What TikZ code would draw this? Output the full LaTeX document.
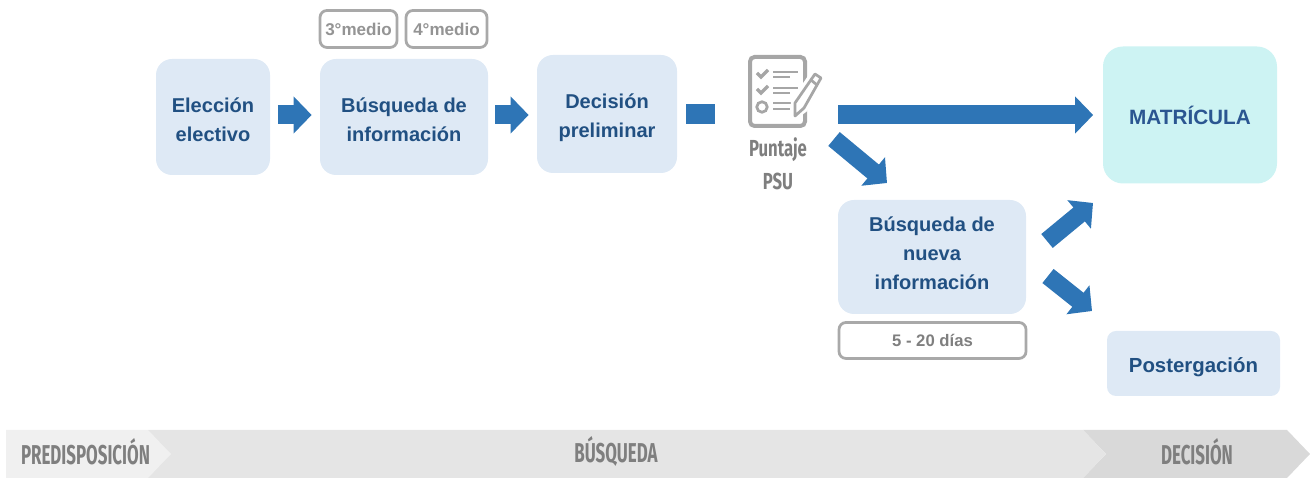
\documentclass[tikz,border=0pt]{standalone}
\usepackage{fontspec}
\setmainfont{Liberation Sans}
\newfontfamily\bannerfont{Fira Sans}[FakeStretch=0.62]
\newfontfamily\scorefont{Fira Sans}[FakeStretch=0.72]
\usetikzlibrary{arrows.meta,positioning,calc}

\definecolor{boxblue}{HTML}{DEE9F5}
\definecolor{boxcyan}{HTML}{CDF3F3}
\definecolor{arrowblue}{HTML}{2E75B6}
\definecolor{textblue}{HTML}{215082}
\definecolor{matblue}{HTML}{2B5691}
\definecolor{tagline}{HTML}{A9A9A9}
\definecolor{icongray}{HTML}{A6A6A6}
\definecolor{bannertext}{HTML}{7F7F7F}

% struts that move a label off the middle of its box
\newcommand{\dropby}[1]{\rule{0pt}{#1}}
\newcommand{\liftby}[1]{\rule[-#1]{0pt}{0pt}}

\tikzset{
	stagebox/.style={fill=boxblue, rounded corners=3.2mm, align=center, inner sep=0pt, text=textblue,
		font=\bfseries\fontsize{11.4}{16.4}\selectfont},
	tagbox/.style={draw=tagline, line width=0.55mm, rounded corners=1.4mm, fill=white, inner sep=0pt, text=black!42,
		font=\bfseries\fontsize{9.7}{12}\selectfont},
	blockarrow/.style={draw=arrowblue, line width=3.8mm, -{Triangle[length=3.6mm,width=7.2mm]}},
	bannertag/.style={text=bannertext, inner sep=0pt, font=\bannerfont\bfseries\fontsize{15.5}{18}\selectfont},
	iconline/.style={draw=icongray, line width=0.55mm},
}

\begin{document}
\begin{tikzpicture}[x=0.2mm,y=-0.2mm]
	\useasboundingbox (0,0) rectangle (1310,479);

	% Stages along the top
	\node[stagebox, minimum width=22.8mm, minimum height=23.2mm] (eleccion) at (213,117) {\dropby{3.95mm}Elección\\electivo};
	\node[stagebox, minimum width=33.6mm, minimum height=23.2mm] (busqueda) at (404,117) {\dropby{3.95mm}Búsqueda de\\información};
	\node[stagebox, minimum width=28mm, minimum height=23.6mm] (decision) at (607,114) {\dropby{4.55mm}Decisión\\preliminar};
	\node[stagebox, fill=boxcyan, rounded corners=4mm, minimum width=34.8mm, minimum height=27.4mm, text=matblue, font=\bfseries\fontsize{11.8}{16.4}\selectfont] (matricula) at (1190,115) {MATRÍCULA};
	\node[stagebox, minimum width=37.6mm, minimum height=22.8mm] (nueva) at (932,257) {Búsqueda de\\nueva\\información\liftby{1.6mm}};
	\node[stagebox, rounded corners=1.8mm, minimum width=34.6mm, minimum height=13mm, font=\bfseries\fontsize{11.6}{16.4}\selectfont] (postergacion) at (1193.5,363.5) {\dropby{4.55mm}Postergación};

	% Time tags
	\node[tagbox, minimum width=15.4mm, minimum height=7.4mm] (tercero) at (358.5,29) {3°medio};
	\node[tagbox, minimum width=16.2mm, minimum height=7.4mm] (cuarto) at (446.5,29) {4°medio};
	\node[tagbox, text=bannertext, minimum width=37.4mm, minimum height=7.2mm, font=\bfseries\fontsize{9.5}{12}\selectfont] (dias) at (932.5,340.5) {5 - 20 días};

	% Puntaje PSU icon
	\node[minimum width=11.6mm, minimum height=14.6mm, inner sep=0pt] (psu) at (777,91.5) {};
	\draw[draw=icongray, line width=0.8mm, rounded corners=0.9mm] (750,57) rectangle (805,126);
	\foreach \y in {72,88} {
		\draw[iconline, line width=0.7mm] (757,\y+1) -- (761,\y+5) -- (768,\y-2);
		\draw[iconline] (773,\y) -- (798,\y);
		\draw[iconline] (773,\y+5) -- (790,\y+5);
	}
	\draw[iconline] (762,107) circle[radius=1.05mm];
	\draw[iconline] (773,103) -- (792,103);
	\draw[iconline] (773,109) -- (790,109);
	\draw[draw=white, fill=white, line width=0.9mm, line join=round] (814,71) -- (823,78) -- (805,110) -- (793,119) -- (793,102) -- cycle;
	\draw[iconline, line join=round] (815,74) -- (821,78) -- (804,108) -- (795,116) -- (795,103) -- cycle;
	\draw[iconline] (811,80) -- (817,85);
	\node[text=bannertext, align=center, inner sep=0pt, font=\scorefont\bfseries\fontsize{13.2}{18.6}\selectfont, below=1.8mm of psu.south, xshift=0.2mm] (puntaje) {Puntaje\\PSU};

	% Arrows
	\coordinate (psuout) at (834,139);
	\coordinate (psuin) at (887,183);
	\coordinate (nuevaup) at (1047,241);
	\coordinate (matin) at (1093,203);
	\coordinate (nuevadown) at (1048,276);
	\coordinate (postin) at (1092,311);
	\draw[blockarrow, shorten <=1.5mm, shorten >=1.6mm] (eleccion.east |- matricula.west) -- (busqueda.west |- matricula.west);
	\draw[blockarrow, shorten <=1.4mm, shorten >=1.6mm] (busqueda.east |- matricula.west) -- (decision.west |- matricula.west);
	\draw[draw=arrowblue, line width=4mm, shorten <=1.8mm, shorten >=6.6mm] (decision.east) -- (decision.east -| psu.west);
	\draw[blockarrow, shorten <=6.4mm, shorten >=1.9mm] (psu.east |- matricula.west) -- (matricula.west);
	\draw[blockarrow, line width=3.6mm] (psuout) -- (psuin);
	\draw[blockarrow, line width=3.6mm] (nuevaup) -- (matin);
	\draw[blockarrow, line width=3.6mm] (nuevadown) -- (postin);

	% Banner along the bottom
	\fill[fill=black!15] (1083,430) -- (1287,430) -- (1310,454) -- (1287,478) -- (1083,478) -- (1106,454) -- cycle;
	\fill[fill=black!10] (148,430) -- (1083,430) -- (1106,454) -- (1083,478) -- (148,478) -- cycle;
	\fill[fill=black!6] (6,430) -- (148,430) -- (171,454) -- (148,478) -- (6,478) -- cycle;
	\node[bannertag] (predisposicion) at (85.5,451.5) {PREDISPOSICIÓN};
	\node[bannertag] (fasebusqueda) at (616,451.5) {BÚSQUEDA};
	\node[bannertag] (fasedecision) at (1197,451.5) {DECISIÓN};
\end{tikzpicture}
\end{document}
